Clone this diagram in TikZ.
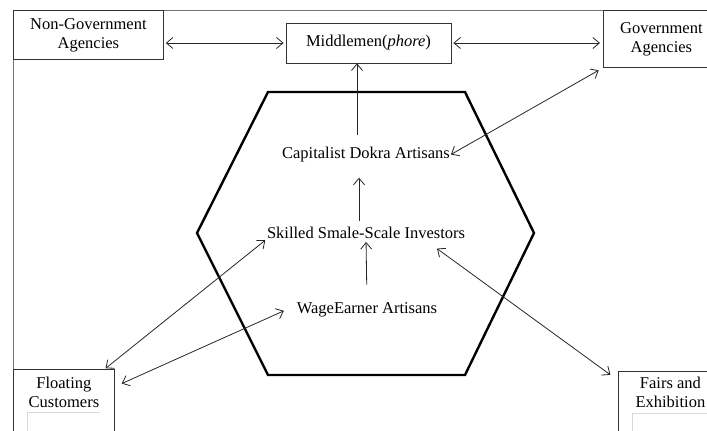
\documentclass[tikz,border=0pt]{standalone}
\usepackage{fontspec}
\setmainfont{Liberation Serif}
\usetikzlibrary{arrows.meta,calc}
\begin{document}
\begin{tikzpicture}[x=1pt,y=-1pt,
  every node/.style={font=\fontsize{16.5}{19}\selectfont},
  box/.style={draw=black!80,line width=0.8pt,rectangle,inner sep=0pt,align=center},
  lbl/.style={inner sep=0pt,align=center},
  arr/.style={draw=black!85,line width=0.8pt,-{Straight Barb[length=6.5pt,width=11pt]}},
  darr/.style={draw=black!85,line width=0.8pt,{Straight Barb[length=6.5pt,width=11pt]}-{Straight Barb[length=6.5pt,width=11pt]}},
  hex/.style={draw=black,line width=2.4pt,line join=miter},
  frame/.style={draw=black!55,line width=0.8pt},
  faint/.style={draw=black!15,line width=0.6pt}]
\useasboundingbox (0,0) rectangle (707,431);
% frame
\draw[frame] (13,431) -- (13,10) -- (707,10);
% hexagon
\draw[hex] (268,92) -- (465,92) -- (534,233) -- (465,375) -- (268,375) -- (197,233) -- cycle;
% boxes
\node[box,minimum width=150,minimum height=49,anchor=north west] (ngo) at (13,10) {Non-Government\\Agencies};
\node[box,minimum width=165,minimum height=40] (mid) at (368.5,43) {Middlemen(\textit{phore})};
\node[box,minimum width=116,minimum height=57,anchor=north west] (gov) at (603,10) {Government\\Agencies};
\node[box,minimum width=101,minimum height=80,anchor=north west] (float) at (13,369) {};
\node[lbl,anchor=north] (floatt) at ([yshift=-8pt]float.north) {Floating\\Customers};
\node[box,minimum width=100,minimum height=80,anchor=north west] (fairs) at (618,371) {};
\node[lbl,anchor=north] (fairst) at ([xshift=2pt,yshift=-6pt]fairs.north) {Fairs and\\Exhibition};
% faint inner lines
\draw[faint] (27,431) -- (27,412) -- (100,412);
\draw[faint] (632,431) -- (632,413) -- (707,413);
% inner labels
\node[lbl] (cap) at (366,155) {Capitalist Dokra Artisans};
\node[lbl] (ski) at (366,233) {Skilled Smale-Scale Investors};
\node[lbl] (wag) at (367,310) {WageEarner Artisans};
% connectors
\draw[darr,shorten <=2pt,shorten >=2pt] (ngo.east |- mid.west) -- (mid.west);
\draw[darr,shorten <=2pt,shorten >=3pt] (mid.east) -- (mid.east -| gov.west);
\draw[arr,shorten <=12pt] ([xshift=-9pt]cap.north) -- ([xshift=-11.5pt]mid.south);
\draw[arr,shorten <=6pt,shorten >=15pt] ([xshift=-7pt]ski.north) -- ([xshift=-7pt]cap.south);
\draw[arr,shorten <=18pt,shorten >=3pt] (wag.north) -- (ski.south);
\draw[darr,shorten <=5pt,shorten >=1pt] (gov.south west) -- (cap.east);
\draw[darr,shorten <=1pt,shorten >=2pt] ([xshift=-10pt]float.north east) -- (ski.south west);
\draw[darr,shorten <=1pt,shorten >=2pt] ([xshift=6pt,yshift=-15pt]float.north east) -- ([xshift=-11pt]wag.west);
\draw[darr,shorten <=2pt,shorten >=1pt] ([xshift=-6pt,yshift=-5pt]fairs.north west) -- ([xshift=-29pt,yshift=-9pt]ski.south east);
\end{tikzpicture}
\end{document}
